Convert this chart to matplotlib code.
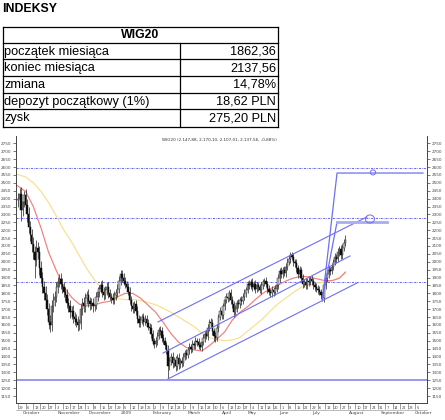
import matplotlib
matplotlib.use('Agg')
import matplotlib.pyplot as plt
import numpy as np
from matplotlib.patches import Ellipse
from matplotlib.lines import Line2D

plt.rcParams['font.family'] = ['Liberation Sans', 'DejaVu Sans']

# ---------------- data ----------------
page_title = "INDEKSY"
table_title = "WIG20"
row_labels = ["początek miesiąca", "koniec miesiąca", "zmiana",
              "depozyt początkowy (1%)", "zysk"]
row_values = ["1862,36", "2137,56", "14,78%", "18,62 PLN", "275,20 PLN"]

chart_title = "WIG20 (2.147,88, 2.170,10, 2.107,01, 2.137,56, -0,88%)"

first_open = 2390
closes = [
    2400, 2430, 2330, 2380, 2420, 2360, 2300, 2220, 2170, 2110,
    2060, 2010, 2090, 2060, 1960, 1900, 1840, 1800, 1760, 1700,
    1620, 1600, 1720, 1760, 1780, 1840, 1870, 1890, 1860, 1840,
    1810, 1790, 1740, 1720, 1680, 1690, 1650, 1640, 1620, 1600,
    1610, 1700, 1740, 1720, 1770, 1790, 1750, 1730, 1740, 1720,
    1725, 1780, 1810, 1830, 1850, 1810, 1790, 1820, 1840, 1800,
    1780, 1770, 1760, 1790, 1800, 1830, 1880, 1920, 1900, 1880,
    1860, 1840, 1810, 1760, 1720, 1700, 1730, 1690, 1640, 1610,
    1630, 1650, 1620, 1640, 1610, 1590, 1580, 1540, 1500, 1480,
    1500, 1530, 1570, 1560, 1520, 1500, 1470, 1440, 1340, 1370,
    1400, 1360, 1380, 1340, 1390, 1350, 1370, 1360, 1400, 1420,
    1410, 1440, 1460, 1450, 1480, 1470, 1500, 1490, 1470, 1460,
    1490, 1520, 1540, 1530, 1580, 1620, 1610, 1560, 1530, 1520,
    1580, 1650, 1690, 1660, 1720, 1760, 1780, 1770, 1800, 1760,
    1730, 1680, 1700, 1740, 1730, 1760, 1750, 1780, 1800, 1820,
    1860, 1850, 1870, 1840, 1860, 1830, 1850, 1840, 1820, 1850,
    1870, 1880, 1860, 1830, 1810, 1800, 1820, 1810, 1830, 1850,
    1900, 1940, 1920, 1950, 1930, 1970, 2000, 2020, 2040, 2030,
    2000, 1990, 1960, 1920, 1950, 1900, 1860, 1870, 1850, 1880,
    1870, 1890, 1880, 1850, 1840, 1830, 1820, 1810, 1790, 1770,
    1850, 1900, 1920, 1950, 1940, 1970, 2000, 2030, 2020, 2060,
    2080, 2040, 2090, 2120, 2137.56,
]
up_wick = [
    35, 40, 45, 35, 30, 40, 35, 45, 40, 35,
    45, 40, 50, 35, 40, 45, 35, 40, 45, 35,
    40, 45, 35, 40, 35, 30, 35, 30, 40, 35,
    35, 30, 40, 30, 35, 30, 35, 30, 30, 35,
    30, 35, 30, 35, 30, 25, 35, 30, 30, 30,
    25, 30, 30, 25, 30, 35, 30, 25, 30, 35,
    30, 25, 30, 25, 30, 30, 30, 25, 30, 30,
    25, 20, 25, 30, 25, 25, 20, 25, 30, 25,
    25, 20, 25, 20, 25, 25, 20, 25, 25, 20,
    25, 25, 20, 25, 25, 20, 25, 20, 35, 25,
    25, 30, 20, 25, 25, 30, 20, 25, 25, 20,
    25, 20, 25, 20, 25, 20, 25, 20, 25, 25,
    20, 25, 20, 25, 25, 20, 25, 25, 20, 25,
    25, 20, 25, 25, 20, 25, 20, 25, 20, 25,
    25, 20, 25, 20, 25, 20, 25, 20, 25, 20,
    20, 25, 20, 25, 20, 25, 20, 25, 20, 25,
    20, 20, 25, 20, 25, 20, 25, 20, 20, 25,
    25, 20, 25, 20, 25, 20, 25, 20, 25, 20,
    25, 20, 25, 20, 25, 20, 25, 20, 25, 20,
    25, 20, 25, 20, 20, 25, 20, 25, 20, 20,
    35, 25, 20, 25, 20, 25, 20, 25, 20, 25,
    20, 25, 20, 25, 30,
]
dn_wick = [
    40, 35, 70, 40, 35, 40, 45, 35, 40, 45,
    40, 110, 35, 40, 45, 35, 40, 45, 35, 40,
    45, 45, 40, 35, 40, 35, 35, 30, 35, 40,
    35, 40, 35, 40, 35, 40, 35, 40, 35, 40,
    35, 35, 40, 35, 35, 40, 35, 35, 30, 35,
    30, 25, 30, 30, 25, 30, 30, 25, 30, 30,
    25, 30, 30, 25, 30, 25, 30, 30, 25, 30,
    25, 25, 20, 25, 30, 25, 25, 30, 25, 25,
    20, 25, 25, 20, 25, 25, 20, 25, 30, 25,
    20, 25, 20, 25, 25, 20, 25, 25, 75, 25,
    25, 30, 25, 30, 25, 30, 25, 25, 20, 25,
    25, 20, 25, 25, 20, 25, 20, 25, 25, 20,
    25, 20, 25, 20, 25, 20, 25, 25, 30, 25,
    20, 25, 20, 25, 20, 25, 20, 25, 20, 25,
    25, 30, 25, 20, 25, 20, 25, 20, 20, 25,
    20, 25, 20, 25, 20, 25, 20, 25, 20, 25,
    20, 25, 20, 25, 20, 25, 20, 25, 20, 20,
    20, 25, 20, 25, 20, 25, 20, 20, 25, 20,
    25, 20, 25, 25, 20, 25, 25, 20, 25, 20,
    25, 20, 25, 20, 25, 20, 25, 20, 25, 20,
    25, 20, 25, 20, 25, 20, 25, 20, 25, 20,
    25, 20, 25, 20, 20,
]

ma_idx = [-1, 5, 10, 15, 20, 25, 30, 35, 40, 45, 50, 55, 60, 65, 70, 75,
          80, 85, 90, 95, 100, 105, 110, 115, 120, 125, 130, 135, 140, 145,
          150, 155, 160, 165, 170, 175, 180, 185, 190, 195, 200, 205, 210, 214]
ma_red = [2486, 2445, 2350, 2215, 2060, 1945, 1840, 1775, 1732, 1720, 1728,
          1742, 1750, 1778, 1800, 1800, 1770, 1725, 1680, 1615, 1545, 1490,
          1458, 1442, 1435, 1468, 1510, 1555, 1630, 1680, 1715, 1760, 1800,
          1830, 1853, 1878, 1897, 1908, 1905, 1893, 1882, 1880, 1895, 1935]
ma_yellow = [2556, 2537, 2500, 2445, 2375, 2290, 2200, 2125, 2040, 1955, 1885,
             1830, 1790, 1768, 1760, 1762, 1755, 1742, 1728, 1705, 1680, 1650,
             1620, 1590, 1550, 1520, 1508, 1500, 1505, 1520, 1560, 1600, 1640,
             1690, 1735, 1770, 1805, 1838, 1855, 1865, 1870, 1880, 1900, 1929]

dotted_levels = [2595, 2278, 1875]
support_level = 1250

channel_upper = ([91.5, 228.0], [1619, 2284])
channel_mid = ([94.8, 217.0], [1422, 2037])
channel_lower = ([98.0, 221.6], [1258, 1866])

target_a = ([199.0, 208.5, 264.7], [1760, 2562, 2562])
target_b = ([199.0, 208.5, 241.0], [1770, 2252, 2252])
circle_a = (232.0, 2566)
circle_b = (230.0, 2271)

week_labels = ["29", "6", "13", "20", "27", "3", "10", "17", "24", "1", "8", "15",
               "22", "29", "5", "12", "19", "26", "2", "9", "16", "23", "2", "9",
               "16", "23", "30", "6", "13", "20", "27", "4", "11", "18", "25", "1",
               "8", "15", "22", "29", "6", "13", "20", "27", "3", "10", "17", "24",
               "31", "7", "14", "21", "28", "5"]
month_labels = ["October", "November", "December", "2009", "February", "March",
                "April", "May", "June", "July", "August", "September", "October"]
month_pos = [3, 26, 46, 67, 88, 111, 133, 150, 171, 192, 216, 237, 259]

ytick_vals = list(range(1150, 2751, 50))

# ---------------- figure ----------------
W, H = 445, 420
fig = plt.figure(figsize=(W / 100, H / 100), dpi=100)
fig.patch.set_facecolor('white')

ov = fig.add_axes([0, 0, 1, 1])
ov.set_xlim(0, W)
ov.set_ylim(H, 0)
ov.axis('off')

# page title + table
ov.text(2.5, 9, page_title, fontsize=8.8, fontweight='bold', va='center', ha='left')
tl, tr, tt, tb = 2.7, 278, 26.7, 126.7
row_lines = [42.7, 59.3, 76.0, 92.7, 109.3]
col_x = 180
lc = 'black'
for (x0, y0, x1, y1) in [(tl, tt, tr, tt), (tl, tb, tr, tb), (tl, tt, tl, tb), (tr, tt, tr, tb),
                         (col_x, row_lines[0], col_x, tb)]:
    ov.add_line(Line2D([x0, x1], [y0, y1], color=lc, lw=0.9))
for yl in row_lines:
    ov.add_line(Line2D([tl, tr], [yl, yl], color=lc, lw=0.9))
ov.text((tl + tr) / 2, (tt + row_lines[0]) / 2 + 0.5, table_title, fontsize=8.8,
        fontweight='bold', ha='center', va='center')
edges = row_lines + [tb]
for i, (lab, val) in enumerate(zip(row_labels, row_values)):
    yc = (edges[i] + edges[i + 1]) / 2 + 0.5
    ov.text(tl + 1.8, yc, lab, fontsize=9.2, ha='left', va='center')
    ov.text(tr - 1.8, yc, val, fontsize=9.2, ha='right', va='center')

# ---------------- chart ----------------
ax = fig.add_axes([16 / W, 17 / H, 411 / W, 267 / H])
ax.set_facecolor('white')
ax.set_xlim(-1.31, 267.3)
ax.set_ylim(1105.7, 2796.6)

n = len(closes)
idx = np.arange(n)
c = np.array(closes, dtype=float)
o = np.concatenate([[first_open], c[:-1]])
hi = np.maximum(o, c) + np.array(up_wick[:n], dtype=float)
lo = np.minimum(o, c) - np.array(dn_wick[:n], dtype=float)

blue = '#6f6ff2'
for lvl in dotted_levels:
    ax.axhline(lvl, color='#6a6af5', lw=0.75, ls=(0, (2, 1, 0.6, 1)), zorder=1)
ax.axhline(support_level, color='#7d7df0', lw=1.1, zorder=1)

ax.plot(ma_idx, ma_yellow, color='#f7e08e', lw=0.85, zorder=2)
ax.plot(ma_idx, ma_red, color='#f07f7f', lw=0.85, zorder=2)

ax.vlines(idx, lo, hi, color='#333333', lw=0.55, zorder=3)
up = c >= o
bw = 0.9
body_lo = np.minimum(o, c)
body_h = np.maximum(np.abs(c - o), 5)
ax.bar(idx[up], body_h[up], bottom=body_lo[up], width=bw, color='#c4c4c4',
       edgecolor='#303030', linewidth=0.35, zorder=4)
ax.bar(idx[~up], body_h[~up], bottom=body_lo[~up], width=bw, color='#0d0d0d',
       edgecolor='#0d0d0d', linewidth=0.35, zorder=4)

for xs, ys in [channel_upper, channel_mid, channel_lower]:
    ax.plot(xs, ys, color=blue, lw=0.8, zorder=5)
ax.plot(target_a[0], target_a[1], color=blue, lw=0.9, zorder=5)
ax.plot(target_b[0][:2], target_b[1][:2], color=blue, lw=0.9, zorder=5)
ax.plot(target_b[0][1:], target_b[1][1:], color='#a9adf2', lw=2.0, zorder=5)
ax.add_patch(Ellipse(circle_a, 3.4, 32, fill=False, edgecolor=blue, lw=0.7, zorder=6))
ax.add_patch(Ellipse(circle_b, 5.9, 51, fill=False, edgecolor=blue, lw=0.7, zorder=6))

ax.text(0.496, 0.985, chart_title, transform=ax.transAxes, fontsize=3,
        ha='center', va='center', color='#333333', family='DejaVu Sans')

# spines & ticks
ax.spines['top'].set_visible(False)
for s in ['left', 'right', 'bottom']:
    ax.spines[s].set_color('#444444')
    ax.spines[s].set_linewidth(0.7)
ax.set_yticks(ytick_vals)
ax.set_yticklabels([str(v) for v in ytick_vals], family='DejaVu Sans')
ax.tick_params(axis='y', left=True, right=True, labelleft=True, labelright=True,
               labelsize=3, length=2.2, width=0.5, pad=1.2, colors='#444444')

week_pos = np.arange(len(week_labels)) * 4.9
ax.set_xticks(week_pos)
ax.set_xticklabels([])
ax.tick_params(axis='x', length=4.5, width=0.4, colors='#555555')
for p, lab in zip(week_pos, week_labels):
    ax.text(p + 0.8, -0.012, lab, transform=ax.get_xaxis_transform(), fontsize=2.6,
            ha='left', va='top', color='#444444', family='DejaVu Sans')
for p, lab in zip(month_pos, month_labels):
    ax.text(p, -0.03, lab, transform=ax.get_xaxis_transform(), fontsize=3.2,
            ha='left', va='top', color='#444444', family='DejaVu Sans')
ax.plot([-1.31, 267.3], [-0.028, -0.028], transform=ax.get_xaxis_transform(),
        color='#888888', lw=0.4, clip_on=False)

fig.savefig('out.png', dpi=100, facecolor='white')
